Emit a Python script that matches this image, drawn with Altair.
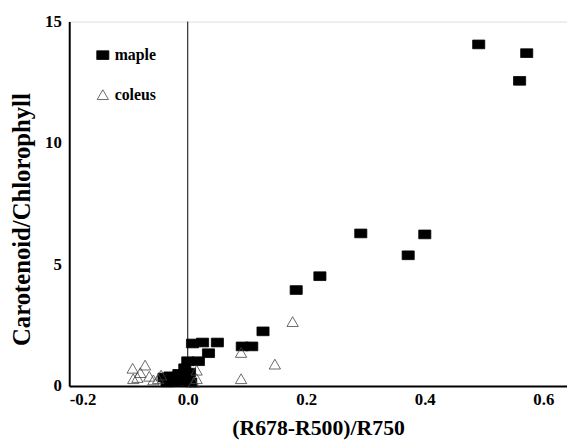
import altair as alt
import pandas as pd

maple_x = [0.491, 0.572, 0.560, 0.292, 0.400, 0.372, 0.223, 0.183, 0.127, 0.092,
           0.108, 0.050, 0.025, 0.008, 0.035, 0.018, 0.000, -0.005, -0.040, -0.030,
           -0.020, -0.015, -0.010, -0.005, 0.000, 0.005, -0.025, -0.035, 0.003]
maple_y = [14.06, 13.70, 12.56, 6.28, 6.24, 5.38, 4.52, 3.95, 2.25, 1.63,
           1.63, 1.79, 1.79, 1.75, 1.35, 1.02, 1.02, 0.73, 0.35, 0.40,
           0.30, 0.50, 0.20, 0.45, 0.30, 0.15, 0.20, 0.15, 0.55]

coleus_x = [-0.093, -0.072, -0.092, -0.080, -0.065, -0.058, -0.085, -0.050, -0.045,
            0.015, 0.015, 0.010, 0.090, 0.090, 0.147, 0.177]
coleus_y = [0.73, 0.86, 0.30, 0.55, 0.40, 0.25, 0.35, 0.30, 0.45,
            0.65, 0.30, 0.15, 0.30, 1.38, 0.90, 2.65]

series = ["maple", "coleus"]
x_ticks = [-0.2, 0.0, 0.2, 0.4, 0.6]
y_ticks = [0, 5, 10, 15]
zero_line = [0.0]

df = pd.DataFrame({
    "x": maple_x + coleus_x,
    "y": maple_y + coleus_y,
    "s": ["maple"] * len(maple_x) + ["coleus"] * len(coleus_x),
})
zdf = pd.DataFrame({"x": zero_line})

FONT = "Liberation Serif"
rect_path = "M-1,-0.72H1V0.72H-1Z"

xscale = alt.Scale(domain=[-0.2, 0.64], nice=False, zero=False)
yscale = alt.Scale(domain=[0, 15], nice=False)

xlab = "datum.value < 0 ? '-' + format(-datum.value, '.1f') : format(datum.value, '.1f')"

legend = alt.Legend(title=None, orient="top-left", offset=26,
                    labelFont=FONT, labelFontWeight="bold",
                    labelFontSize=16, labelColor="black",
                    rowPadding=24, symbolStrokeWidth=0.8)

points = alt.Chart(df).mark_point(strokeWidth=0.8, opacity=1, filled=False).encode(
    x=alt.X("x:Q", scale=xscale,
            axis=alt.Axis(title="(R678-R500)/R750", values=x_ticks, labelExpr=xlab,
                          grid=False, ticks=False, domainColor="black", domainWidth=2,
                          labelFont=FONT, labelFontWeight="bold", labelFontSize=17,
                          labelColor="black", labelPadding=6,
                          titleFont=FONT, titleFontWeight="bold", titleFontSize=22,
                          titleColor="black", titlePadding=10)),
    y=alt.Y("y:Q", scale=yscale,
            axis=alt.Axis(title="Carotenoid/Chlorophyll", values=y_ticks,
                          grid=False, ticks=False, domainColor="black", domainWidth=2,
                          labelFont=FONT, labelFontWeight="bold", labelFontSize=17,
                          labelColor="black", labelPadding=8,
                          titleFont=FONT, titleFontWeight="bold", titleFontSize=25,
                          titleColor="black", titlePadding=10, titleY=200)),
    shape=alt.Shape("s:N", scale=alt.Scale(domain=series, range=[rect_path, "triangle-up"]),
                    legend=legend),
    fill=alt.Fill("s:N", scale=alt.Scale(domain=series, range=["black", "white"]),
                  legend=legend),
    fillOpacity=alt.FillOpacity("s:N", scale=alt.Scale(domain=series, range=[1, 0]),
                                legend=legend),
    stroke=alt.Stroke("s:N", scale=alt.Scale(domain=series, range=["black", "#444444"]),
                      legend=legend),
    size=alt.Size("s:N", scale=alt.Scale(domain=series, range=[150, 130]), legend=legend),
)

vline = alt.Chart(zdf).mark_rule(color="black", strokeWidth=1).encode(
    x=alt.X("x:Q", scale=xscale)
)

chart = alt.layer(vline, points).properties(
    width=504, height=369,
    autosize=alt.AutoSizeParams(type="none"),
    padding={"left": 62, "top": 11, "right": 0, "bottom": 57},
).configure_view(stroke="black", strokeWidth=1).configure(background="white")

chart.save("out.html", embed_options={"renderer": "svg", "actions": False})
